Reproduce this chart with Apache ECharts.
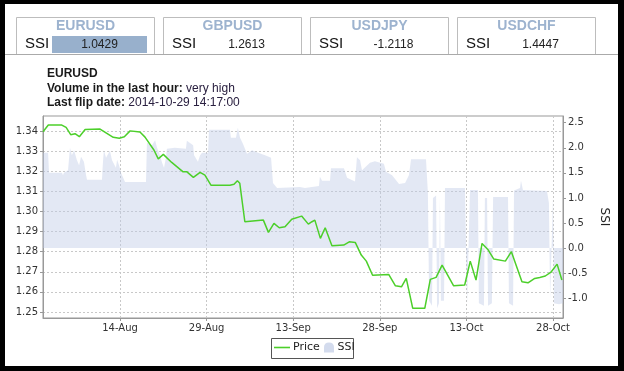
<!DOCTYPE html>
<html><head><meta charset="utf-8">
<script src="https://cdn.jsdelivr.net/npm/echarts@6/dist/echarts.min.js"></script>
<style>html,body{margin:0;padding:0;background:#fff}#c{width:624px;height:371px}</style>
</head><body><div id="c"></div>
<script>
const YEAR = 2014;
// Tabs
const tabPairs = ['EURUSD', 'GBPUSD', 'USDJPY', 'USDCHF'];
const tabSSI = ['1.0429', '1.2613', '-1.2118', '1.4447'];
// Header
const chartPair = 'EURUSD';
const volumeLabel = 'Volume in the last hour:';
const volumeValue = 'very high';
const flipLabel = 'Last flip date:';
const flipValue = '2014-10-29 14:17:00';
// Axes
const xTickTimes = ['08-14 00:00', '08-29 00:00', '09-13 00:00', '09-28 00:00', '10-13 00:00', '10-28 00:00'];
const xTickLabels = ['14-Aug', '29-Aug', '13-Sep', '28-Sep', '13-Oct', '28-Oct'];
const xStart = '07-31 15:54';
const xEnd = '10-29 17:36';
const priceTicks = [1.25, 1.26, 1.27, 1.28, 1.29, 1.30, 1.31, 1.32, 1.33, 1.34];
const priceMin = 1.247, priceMax = 1.3475;
const ssiTicks = [-1.0, -0.5, 0.0, 0.5, 1.0, 1.5, 2.0, 2.5];
const ssiMin = -1.393, ssiMax = 2.633;
// Price series
const priceTimes = ['07-31 16:00','08-01 14:00','08-03 22:00','08-04 16:00','08-05 11:00','08-06 05:00','08-06 23:00','08-07 23:00','08-10 13:00','08-12 20:00','08-13 21:00','08-14 18:00','08-15 18:00','08-17 11:00','08-18 08:00','08-19 21:00','08-20 15:00','08-21 12:00','08-22 23:00','08-24 21:00','08-25 13:00','08-26 17:00','08-27 21:00','08-28 17:00','08-29 18:00','09-02 01:00','09-02 18:00','09-03 08:00','09-03 18:00','09-04 15:00','09-07 20:00','09-08 17:00','09-09 16:00','09-10 14:00','09-11 14:00','09-12 18:00','09-14 11:00','09-15 15:00','09-16 06:00','09-16 18:00','09-17 17:00','09-18 13:00','09-19 17:00','09-21 18:00','09-22 17:00','09-23 18:00','09-24 19:00','09-25 16:00','09-26 18:00','09-29 13:00','09-30 17:00','10-01 18:00','10-02 14:00','10-03 17:00','10-05 19:00','10-06 18:00','10-07 18:00','10-08 19:00','10-10 19:00','10-12 17:00','10-13 16:00','10-14 16:00','10-15 17:00','10-16 17:00','10-17 18:00','10-19 18:00','10-20 19:00','10-22 15:00','10-23 16:00','10-24 20:00','10-25 17:00','10-26 16:00','10-27 17:00','10-28 17:00','10-29 13:00'];
const priceValues = [1.3397,1.3430,1.3430,1.3418,1.3382,1.3387,1.3372,1.3408,1.3410,1.3369,1.3364,1.3372,1.3401,1.3395,1.3370,1.3306,1.3262,1.3284,1.3244,1.3198,1.3198,1.3170,1.3195,1.3181,1.3131,1.3131,1.3135,1.3153,1.3140,1.2949,1.2957,1.2896,1.2941,1.2919,1.2924,1.2961,1.2977,1.2937,1.2949,1.2957,1.2866,1.2919,1.2829,1.2833,1.2849,1.2846,1.2783,1.2753,1.2683,1.2687,1.2630,1.2625,1.2667,1.2518,1.2518,1.2662,1.2672,1.2733,1.2630,1.2634,1.2753,1.2659,1.2841,1.2811,1.2763,1.2753,1.2800,1.2650,1.2645,1.2667,1.2672,1.2679,1.2700,1.2738,1.2659];
// SSI series
const ssiTimes = ['07-31 16:00','08-01 13:00','08-01 17:00','08-03 23:00','08-04 03:00','08-04 07:00','08-05 00:00','08-05 08:00','08-05 16:00','08-06 01:00','08-06 13:00','08-06 22:00','08-07 06:00','08-07 18:00','08-08 03:00','08-08 07:00','08-10 21:00','08-11 01:00','08-11 05:00','08-11 14:00','08-12 06:00','08-12 15:00','08-13 07:00','08-13 12:00','08-13 20:00','08-14 04:00','08-14 21:00','08-18 12:00','08-18 16:00','08-19 13:00','08-20 02:00','08-20 10:00','08-20 22:00','08-21 07:00','08-21 15:00','08-21 23:00','08-22 03:00','08-23 12:00','08-25 10:00','08-25 14:00','08-26 16:00','08-26 20:00','08-27 12:00','08-27 21:00','08-28 05:00','08-29 06:00','08-29 10:00','09-02 01:00','09-02 05:00','09-03 02:00','09-03 10:00','09-03 19:00','09-04 07:00','09-05 00:00','09-05 21:00','09-06 22:00','09-08 03:00','09-09 04:00','09-09 12:00','09-10 05:00','09-14 04:00','09-15 01:00','09-17 11:00','09-17 15:00','09-18 00:00','09-19 09:00','09-19 13:00','09-21 19:00','09-22 08:00','09-23 17:00','09-24 01:00','09-24 14:00','09-24 22:00','09-26 07:00','09-27 04:00','09-28 17:00','09-29 02:00','09-30 03:00','10-01 08:00','10-02 09:00','10-03 01:00','10-03 10:00','10-06 00:00','10-06 08:00','10-06 13:00','10-07 01:00','10-07 05:00','10-07 18:00','10-07 22:00','10-08 06:00','10-08 10:00','10-08 14:00','10-09 03:00','10-09 07:00','10-12 18:00','10-13 03:00','10-13 11:00','10-13 15:00','10-15 00:00','10-15 04:00','10-16 01:00','10-16 05:00','10-16 14:00','10-16 18:00','10-17 10:00','10-17 15:00','10-20 05:00','10-20 09:00','10-21 02:00','10-21 06:00','10-22 07:00','10-22 11:00','10-22 19:00','10-26 23:00','10-27 07:00','10-27 12:00','10-27 20:00','10-28 00:00','10-28 04:00','10-29 01:00','10-29 18:00'];
const ssiValues = [1.90,1.90,1.50,1.50,1.45,1.50,1.55,2.00,1.85,1.95,1.75,1.65,1.82,1.72,1.45,1.36,1.36,1.70,1.95,1.80,1.94,1.75,1.60,1.76,1.65,1.50,1.32,1.32,2.10,2.05,2.15,2.00,1.85,1.70,1.60,1.80,1.98,2.00,1.98,2.14,2.05,1.85,1.72,1.85,1.90,1.90,2.36,2.36,2.20,2.20,2.40,2.20,2.08,1.88,1.95,1.90,1.85,1.80,1.30,1.20,1.22,1.20,1.24,1.42,1.34,1.34,1.59,1.59,1.40,1.33,1.81,1.75,1.55,1.70,1.73,1.68,1.52,1.45,1.28,1.30,1.45,1.77,1.77,1.10,-1.05,-1.15,1.00,1.05,-1.20,-1.10,1.00,-1.05,-1.05,1.20,1.20,-1.10,-1.10,1.16,1.16,-1.10,-1.15,1.00,1.00,-1.15,-1.10,1.02,1.02,-1.10,-1.15,1.15,1.20,1.34,1.16,1.14,0.90,-1.00,-1.00,1.00,-1.10,-1.12,-1.10];

function t(s) {
  const [md, hm] = s.split(' ');
  const [mo, d] = md.split('-').map(Number);
  const [h, mi] = hm.split(':').map(Number);
  return Date.UTC(YEAR, mo - 1, d, h, mi);
}
const xTickVals = xTickTimes.map(t);
const priceData = priceTimes.map((s, i) => [t(s), priceValues[i]]);
const ssiData = ssiTimes.map((s, i) => [t(s), ssiValues[i]]);

const AX = 'DejaVu Sans';
const TX = 'Liberation Sans';
const PRICE_COLOR = '#4ccf2a';
const chart = echarts.init(document.getElementById('c'), null, {renderer: 'canvas'});

const graphics = [];
// tabs
const tabLefts = [16, 163, 310, 457];
tabPairs.forEach((p, i) => {
  const L = tabLefts[i];
  graphics.push({type: 'rect', z: 1, shape: {x: L + 0.5, y: 17.5, width: 138, height: 37}, style: {fill: '#fff', stroke: '#bdbdbd', lineWidth: 1}});
  if (i === 0) graphics.push({type: 'rect', z: 2, shape: {x: 52, y: 36, width: 95, height: 17}, style: {fill: '#98b0cc'}});
  graphics.push({type: 'text', z: 3, x: L + 69.5, y: 26, style: {text: p, font: 'bold 14px ' + TX, fill: '#9db3cf', align: 'center', verticalAlign: 'middle'}});
  graphics.push({type: 'text', z: 3, x: L + 9, y: 44, style: {text: 'SSI', font: '15px ' + TX, fill: '#111', align: 'left', verticalAlign: 'middle'}});
  graphics.push({type: 'text', z: 3, x: L + 83.5, y: 44.5, style: {text: tabSSI[i], font: '12px ' + TX, fill: '#222', align: 'center', verticalAlign: 'middle'}});
});
graphics.push({type: 'line', z: 2, shape: {x1: 5, y1: 54.5, x2: 618, y2: 54.5}, style: {stroke: '#aaa', lineWidth: 1}});
// header text
const rich = {b: {fontWeight: 'bold', fontSize: 12, fontFamily: TX, fill: '#1a1a1a'}, n: {fontSize: 12, fontFamily: TX, fill: '#2a2040'}};
graphics.push({type: 'text', z: 3, x: 47, y: 73.5, style: {text: chartPair, font: 'bold 12px ' + TX, fill: '#1a1a1a', verticalAlign: 'middle'}});
graphics.push({type: 'text', z: 3, x: 47, y: 88.5, style: {text: '{b|' + volumeLabel + '} {n|' + volumeValue + '}', rich: rich, font: '12px ' + TX, verticalAlign: 'middle'}});
graphics.push({type: 'text', z: 3, x: 47, y: 102.5, style: {text: '{b|' + flipLabel + '} {n|' + flipValue + '}', rich: rich, font: '12px ' + TX, verticalAlign: 'middle'}});
// legend box
graphics.push({type: 'rect', z: 3, shape: {x: 271.5, y: 338.5, width: 82, height: 20}, style: {fill: 'none', stroke: '#555', lineWidth: 1}});
// black frame
graphics.push({type: 'rect', z: 50, shape: {x: 0, y: 0, width: 624, height: 4}, style: {fill: '#000'}});
graphics.push({type: 'rect', z: 50, shape: {x: 0, y: 0, width: 5, height: 371}, style: {fill: '#000'}});
graphics.push({type: 'rect', z: 50, shape: {x: 618, y: 0, width: 6, height: 371}, style: {fill: '#000'}});
graphics.push({type: 'rect', z: 50, shape: {x: 0, y: 366, width: 624, height: 5}, style: {fill: '#000'}});

const grid = '#c8c8c8';
chart.setOption({
  animation: false,
  backgroundColor: '#fff',
  graphic: graphics,
  grid: {left: 43, right: 61, top: 116, bottom: 53, show: true, borderColor: '#999', borderWidth: 1, backgroundColor: '#fff'},
  legend: [
    {data: [{name: 'Price', icon: 'path://M0,0 L16,0 L16,1.6 L0,1.6 Z', itemStyle: {color: PRICE_COLOR}}],
     left: 274, top: 342, padding: 0, itemWidth: 16, itemHeight: 10, itemGap: 0,
     textStyle: {fontFamily: AX, fontSize: 11, color: '#222', padding: [0, 0, 0, -2]}},
    {data: [{name: 'SSI', icon: 'path://M0,10 L0,5 Q0,0 5,0 Q10,0 10,5 L10,10 Z'}], left: 324, top: 342, padding: 0, itemWidth: 11, itemHeight: 10,
     textStyle: {fontFamily: AX, fontSize: 11, color: '#222', padding: [0, 0, 0, -2]}}
  ],
  xAxis: {
    type: 'value', min: t(xStart), max: t(xEnd),
    axisLine: {onZero: false, lineStyle: {color: '#999'}},
    axisTick: {show: true, length: 3, lineStyle: {color: '#999'}, customValues: xTickVals},
    axisLabel: {customValues: xTickVals, fontFamily: AX, fontSize: 10, color: '#333', margin: 5,
      formatter: v => { const k = xTickVals.findIndex(q => Math.abs(q - v) < 60000); return k >= 0 ? xTickLabels[k] : ''; }},
    splitLine: {show: true, lineStyle: {color: grid, type: [2, 2], width: 1}}
  },
  yAxis: [
    {type: 'value', position: 'left', min: priceMin, max: priceMax,
     axisLine: {show: true, onZero: false, lineStyle: {color: '#999'}},
     axisTick: {show: true, length: 3, lineStyle: {color: '#999'}, customValues: priceTicks},
     axisLabel: {customValues: priceTicks, fontFamily: AX, fontSize: 10, color: '#333', margin: 5, formatter: v => v.toFixed(2)},
     splitLine: {show: true, lineStyle: {color: grid, type: [2, 2], width: 1}}},
    {type: 'value', position: 'right', min: ssiMin, max: ssiMax,
     name: 'SSI', nameLocation: 'middle', nameRotate: -90, nameGap: 27,
     nameTextStyle: {fontFamily: AX, fontSize: 12, color: '#222'},
     axisLine: {show: true, onZero: false, lineStyle: {color: '#999'}},
     axisTick: {show: true, length: 3, lineStyle: {color: '#999'}, customValues: ssiTicks},
     axisLabel: {customValues: ssiTicks, fontFamily: AX, fontSize: 10, color: '#333', margin: 5, formatter: v => v.toFixed(1)},
     splitLine: {show: false}}
  ],
  series: [
    {name: 'SSI', type: 'line', yAxisIndex: 1, data: ssiData, symbol: 'none', z: 1,
     color: '#d3dbed', lineStyle: {width: 0}, areaStyle: {color: 'rgba(190,203,229,0.62)', origin: 0}},
    {name: 'Price', type: 'line', yAxisIndex: 0, data: priceData, symbol: 'none', z: 3,
     color: PRICE_COLOR, lineStyle: {width: 1.5, color: PRICE_COLOR}}
  ]
});
</script></body></html>
